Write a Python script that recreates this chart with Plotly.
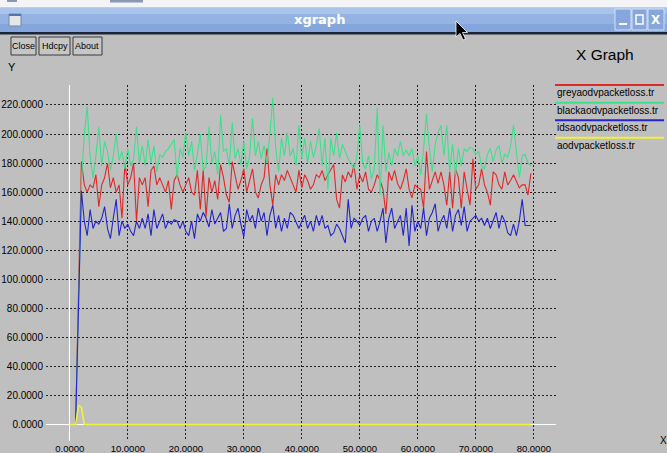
import plotly.graph_objects as go

W, H = 667, 453

# ---------------- data ----------------
series_names = ["greyaodvpacketloss.tr", "blackaodvpacketloss.tr",
                "idsaodvpacketloss.tr", "aodvpacketloss.tr"]
series_colors = ["#e02828", "#3ee08c", "#2424cc", "#f0f040"]

t_first = 1.0
t_step = 0.5

grey_vals = [0, 90,
    181, 165, 160, 165, 163, 172, 150, 165, 170, 180,
    163, 170, 160, 165, 142, 180, 165, 170, 180, 140,
    170, 165, 170, 150, 175, 178, 165, 170, 165, 160,
    168, 148, 168, 172, 165, 160, 165, 170, 160, 158,
    175, 148, 175, 143, 170, 160, 168, 155,
    179, 170, 158, 153, 181, 172, 162, 168, 176, 160,
    168, 176, 160, 156, 165, 170, 190, 165, 151, 172,
    165, 172, 168, 175, 170, 165, 160, 175, 163, 172,
    168, 162, 165, 172, 170, 175, 168, 172, 176, 179,
    155, 149, 172, 167, 174, 170, 179, 162, 172, 167,
    174, 162, 160, 165, 172, 168,
    162, 145, 174, 168, 175, 166, 162, 168, 176, 162,
    156, 165, 163, 162, 149, 188, 162, 168, 174, 166,
    174, 165, 151, 174, 149, 176, 170, 149, 174, 162,
    151, 183, 162, 165, 176, 165, 160, 151, 174, 172,
    165, 162, 174, 165, 168, 172, 168, 163, 165, 165,
    158, 173]

black_vals = [0, 85,
    166, 200, 219, 185, 170, 185, 205, 178, 195, 188,
    175, 185, 200, 182, 188, 176, 190, 178, 183, 205,
    180, 192, 178, 196, 180, 192, 174, 186, 184, 188,
    190, 193, 196, 170, 190, 184, 201, 185, 195, 175,
    186, 200, 175, 178, 205, 180, 188, 172,
    213, 188, 190, 178, 208, 183, 190, 179, 195, 176,
    185, 211, 185, 195, 183, 192, 180, 200, 225, 190,
    174, 197, 185, 201, 185, 190, 178, 206, 183, 197,
    180, 195, 184, 192, 204, 178, 197, 162, 197, 185,
    201, 183, 193, 188, 183, 180, 176, 185, 206, 180,
    176, 185, 169, 176, 218, 158,
    206, 174, 187, 178, 190, 185, 195, 185, 189, 185,
    190, 178, 185, 172, 190, 214, 190, 174, 193, 201,
    206, 185, 206, 174, 193, 172, 190, 178, 190, 188,
    191, 190, 186, 188, 178, 176, 186, 190, 181, 189,
    192, 180, 186, 184, 192, 206, 188, 170, 185, 186,
    180, 178]

ids_vals = [0, 80,
    161, 140, 130, 148, 135, 140, 138, 142, 150, 135,
    128, 142, 155, 130, 140, 135, 138, 133, 130, 140,
    135, 142, 135, 145, 130, 148, 135, 140, 145, 135,
    140, 138, 141, 140, 135, 140, 133, 130, 140, 128,
    145, 140, 146, 142, 136, 148, 138, 142,
    146, 133, 135, 152, 135, 144, 149, 138, 129, 148,
    140, 144, 135, 149, 140, 146, 130, 144, 151, 135,
    144, 133, 142, 135, 146, 144, 140, 135, 140, 144,
    135, 140, 133, 144, 137, 144, 135, 137, 130, 132,
    138, 135, 130, 125, 155, 135, 142, 140, 137, 142,
    144, 133, 140, 142, 133, 140,
    149, 125, 142, 149, 135, 140, 144, 130, 149, 123,
    151, 133, 140, 135, 149, 130, 142, 146, 152, 133,
    140, 144, 135, 149, 133, 144, 148, 137, 150, 133,
    140, 142, 144, 140, 142, 137, 142, 135, 140, 146,
    135, 144, 140, 132, 130, 138, 130, 140, 155, 137,
    137, 137]

aodv_t = [0.0, 1.0, 1.5, 2.0, 2.5, 79.5]
aodv_vals = [0, 0, 13, 12, 0, 0]

x_ticks = [0, 10, 20, 30, 40, 50, 60, 70, 80]
y_ticks = [0, 20, 40, 60, 80, 100, 120, 140, 160, 180, 200, 220]

# ---------------- helpers ----------------
def times(n):
    return [t_first + t_step * i for i in range(n)]

def PX(px):
    return px / W

def PY(py):
    return 1 - py / H

BG = "#bfbfbf"
FONT = "Liberation Sans, Arial, sans-serif"

fig = go.Figure()
for vals, name, col in zip([grey_vals, black_vals, ids_vals],
                           series_names[:3], series_colors[:3]):
    fig.add_trace(go.Scatter(x=times(len(vals)), y=vals, mode="lines",
                             name=name, line=dict(color=col, width=1.1),
                             showlegend=False, hoverinfo="skip"))
fig.add_trace(go.Scatter(x=aodv_t, y=aodv_vals, mode="lines",
                         name=series_names[3],
                         line=dict(color=series_colors[3], width=1.6),
                         showlegend=False, hoverinfo="skip"))

shapes = []
ann = []

def rect(x0, y0, x1, y1, fill, line=None, lw=0):
    shapes.append(dict(type="rect", xref="paper", yref="paper",
                       x0=PX(x0), x1=PX(x1), y0=PY(y1), y1=PY(y0),
                       fillcolor=fill,
                       line=dict(color=line or fill, width=lw),
                       layer="above"))

def hline(x0, x1, y, col, w):
    shapes.append(dict(type="line", xref="paper", yref="paper",
                       x0=PX(x0), x1=PX(x1), y0=PY(y), y1=PY(y),
                       line=dict(color=col, width=w), layer="above"))

def text(px, py, s, size, color="black", xanchor="center", family=FONT, bold=False):
    if bold:
        s = "<b>" + s + "</b>"
    ann.append(dict(x=PX(px), y=PY(py), xref="paper", yref="paper", text=s,
                    showarrow=False, xanchor=xanchor, yanchor="middle",
                    font=dict(size=size, color=color, family=family)))

# desktop strip on top
rect(0, 0, 667, 7.5, "#f4f4f6")
rect(7, 0, 17, 2, "#8a98b8")
rect(110, 0, 143, 2.5, "#8a98b8")
# title bar
rect(0, 7.5, 667, 14, "#a9c3ea")
rect(0, 14, 667, 24, "#94b3e3")
rect(0, 24, 667, 32, "#84a6dc")
rect(0, 32, 667, 34.5, "#1c2438")
# window icon
rect(9, 14, 21, 26, "#e6e6e6", "#7088b0", 1)
rect(9, 14, 21, 16, "#5574a8")
# right title buttons
for x0, x1 in [(615, 631), (632, 647), (648, 664)]:
    rect(x0, 9, x1, 30, "#86a6dc", "#d4e0f4", 1)
hline(619, 627, 24, "white", 2)
rect(636, 15, 643, 24, "rgba(0,0,0,0)", "white", 1.5)
text(656, 19.5, "X", 12, "white", family="DejaVu Sans, sans-serif", bold=True)
text(319, 19.5, "xgraph", 13, "white", family="DejaVu Sans, Liberation Sans, sans-serif", bold=True)
# mouse cursor
cur = [(456, 21), (456, 37), (460, 33.5), (463, 40), (465.5, 39), (462.5, 32.5), (467.5, 32.5)]
path = "M " + " L ".join(f"{PX(a)},{PY(b)}" for a, b in cur) + " Z"
shapes.append(dict(type="path", xref="paper", yref="paper", path=path,
                   fillcolor="black", line=dict(color="white", width=0.8), layer="above"))

# buttons
for (x0, x1), lab in zip([(11, 36), (39, 70), (73, 102)], ["Close", "Hdcpy", "About"]):
    rect(x0, 37, x1, 55, "#c6c6c6", "#3a3a3a", 1)
    text((x0 + x1) / 2, 46.5, lab, 9)

text(605, 55, "X Graph", 15.5, family="Liberation Sans, Arial, sans-serif")
text(12, 67, "Y", 11)
text(663, 440, "X", 10)

# legend
leg_y = [85, 102.7, 120.2, 137.8]
for yy, name, col in zip(leg_y, series_names, series_colors):
    hline(555, 664, yy, col, 2)
    text(555, yy + 7.5, name, 10, xanchor="left")

x0_px, x_scale = 69.8, 5.8
y0_px, y_scale = 424.5, 1.4523
left_px, right_px, top_px, bot_px = 46, 556, 85, 441

fig.update_layout(
    width=W, height=H, margin=dict(l=0, r=0, t=0, b=0, autoexpand=False),
    paper_bgcolor=BG, plot_bgcolor=BG,
    shapes=shapes, annotations=ann, showlegend=False,
    xaxis=dict(domain=[PX(left_px), PX(right_px)], automargin=False,
               range=[(left_px - x0_px) / x_scale, (right_px - x0_px) / x_scale],
               tickvals=x_ticks, tickformat=".4f",
               showgrid=True, gridcolor="#202020", gridwidth=1, griddash="2px,2px",
               zeroline=True, zerolinecolor="white", zerolinewidth=1.2,
               showline=False, ticks="", ticklabelstandoff=0,
               tickfont=dict(family=FONT, size=9.5, color="black")),
    yaxis=dict(domain=[PY(bot_px), PY(top_px)], automargin=False,
               range=[(y0_px - bot_px) / y_scale, (y0_px - top_px) / y_scale],
               tickvals=y_ticks, tickformat=".4f",
               showgrid=True, gridcolor="#202020", gridwidth=1, griddash="2px,2px",
               zeroline=True, zerolinecolor="white", zerolinewidth=1.2,
               showline=False, ticks="", ticklabelstandoff=2,
               tickfont=dict(family=FONT, size=10, color="black")),
)

fig.write_html("out.html")
